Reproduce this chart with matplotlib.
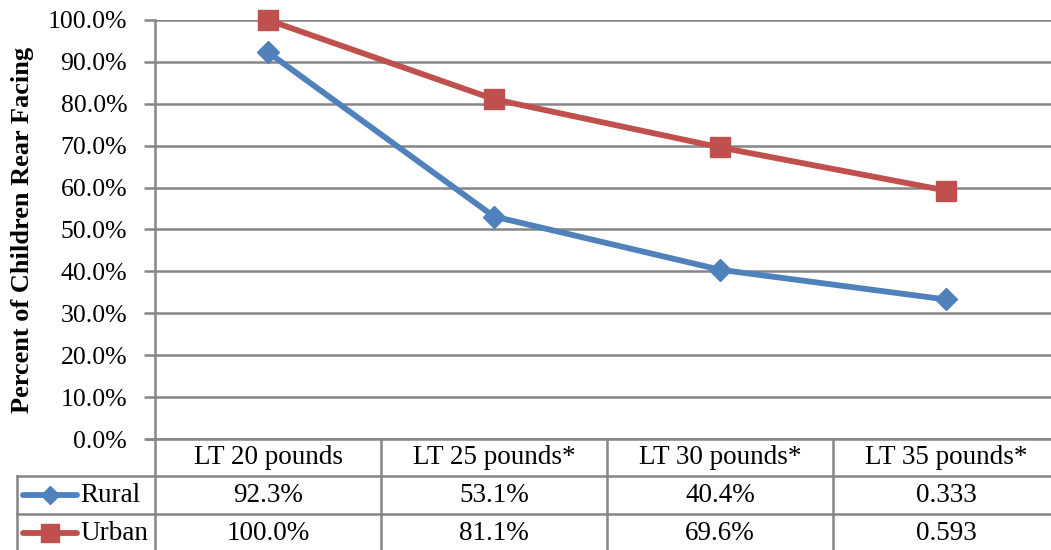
import matplotlib
matplotlib.use("Agg")
import matplotlib.pyplot as plt
from matplotlib.lines import Line2D

categories = ["LT 20 pounds", "LT 25 pounds*", "LT 30 pounds*", "LT 35 pounds*"]
rural = [92.3, 53.1, 40.4, 33.3]
urban = [100.0, 81.1, 69.6, 59.3]
rural_labels = ["92.3%", "53.1%", "40.4%", "0.333"]
urban_labels = ["100.0%", "81.1%", "69.6%", "0.593"]
yticks = [0, 10, 20, 30, 40, 50, 60, 70, 80, 90, 100]

W, H = 1051, 550
plt.rcParams['font.family'] = ['Liberation Serif', 'DejaVu Serif']
fig = plt.figure(figsize=(W / 100, H / 100), dpi=100)

def fx(x):
    return x / W

def fy(y):
    return 1 - y / H

blue = "#4F81BD"
red = "#C0504D"
grid = "#868686"
FS = 19.5

# plot area: x 155..1059, y 20..439
left, right, top, bottom = 155, 1059, 20, 439
ax = fig.add_axes([fx(left), fy(bottom), fx(right - left), (bottom - top) / H])
ax.set_xlim(-0.5, 3.5)
ax.set_ylim(0, 100)
xs = list(range(len(categories)))
ax.plot(xs, rural, color=blue, lw=4.2, marker="D", ms=11, mfc=blue, mec=blue, zorder=5, clip_on=False)
ax.plot(xs, urban, color=red, lw=4.2, marker="s", ms=14, mfc=red, mec=red, zorder=5, clip_on=False)
ax.set_yticks(yticks)
ax.set_yticklabels([f"{v:.1f}%" for v in yticks], fontsize=18.5)
ax.yaxis.grid(True, color=grid, lw=1.8)
ax.set_axisbelow(True)
ax.set_xticks([])
for s in ["top", "right", "bottom"]:
    ax.spines[s].set_visible(False)
ax.spines["left"].set_color(grid)
ax.spines["left"].set_linewidth(1.8)
ax.tick_params(axis="y", length=8, width=1.8, color=grid, pad=12)
ax.set_ylabel("Percent of Children Rear Facing", fontsize=19, fontweight="bold")
ax.yaxis.set_label_coords((34 - left) / (right - left), 0.5)

# data table
def hline(y, x0, x1):
    fig.add_artist(Line2D([fx(x0), fx(x1)], [fy(y), fy(y)], color=grid, lw=1.8))

def vline(x, y0, y1):
    fig.add_artist(Line2D([fx(x), fx(x)], [fy(y0), fy(y1)], color=grid, lw=1.8))

col_w = (right - left) / len(categories)
row_top = [439, 476, 514, 552]
hline(439, 147, W + 5)
hline(476, 17, W + 5)
hline(514, 17, W + 5)
vline(17, 476, 552)
vline(155, 439, 552)
for i in range(1, len(categories)):
    vline(left + i * col_w, 439, 552)

for i, c in enumerate(categories):
    cx = left + (i + 0.5) * col_w
    fig.text(fx(cx), fy((row_top[0] + row_top[1]) / 2), c, ha="center", va="center", fontsize=FS)
    fig.text(fx(cx), fy((row_top[1] + row_top[2]) / 2), rural_labels[i], ha="center", va="center", fontsize=FS)
    fig.text(fx(cx), fy((row_top[2] + row_top[3]) / 2), urban_labels[i], ha="center", va="center", fontsize=FS)

# legend keys
for (name, col, mk, ms), (y0, y1) in zip(
        [("Rural", blue, "D", 9), ("Urban", red, "s", 13)],
        [(476, 514), (514, 552)]):
    yc = fy((y0 + y1) / 2)
    fig.add_artist(Line2D([fx(23), fx(77)], [yc, yc], color=col, lw=4.2,
                          solid_capstyle="round"))
    fig.add_artist(Line2D([fx(50)], [yc], color=col, marker=mk, ms=ms, mfc=col, mec=col))
    fig.text(fx(80), yc, name, ha="left", va="center", fontsize=FS)

fig.savefig("out.png", dpi=100)
